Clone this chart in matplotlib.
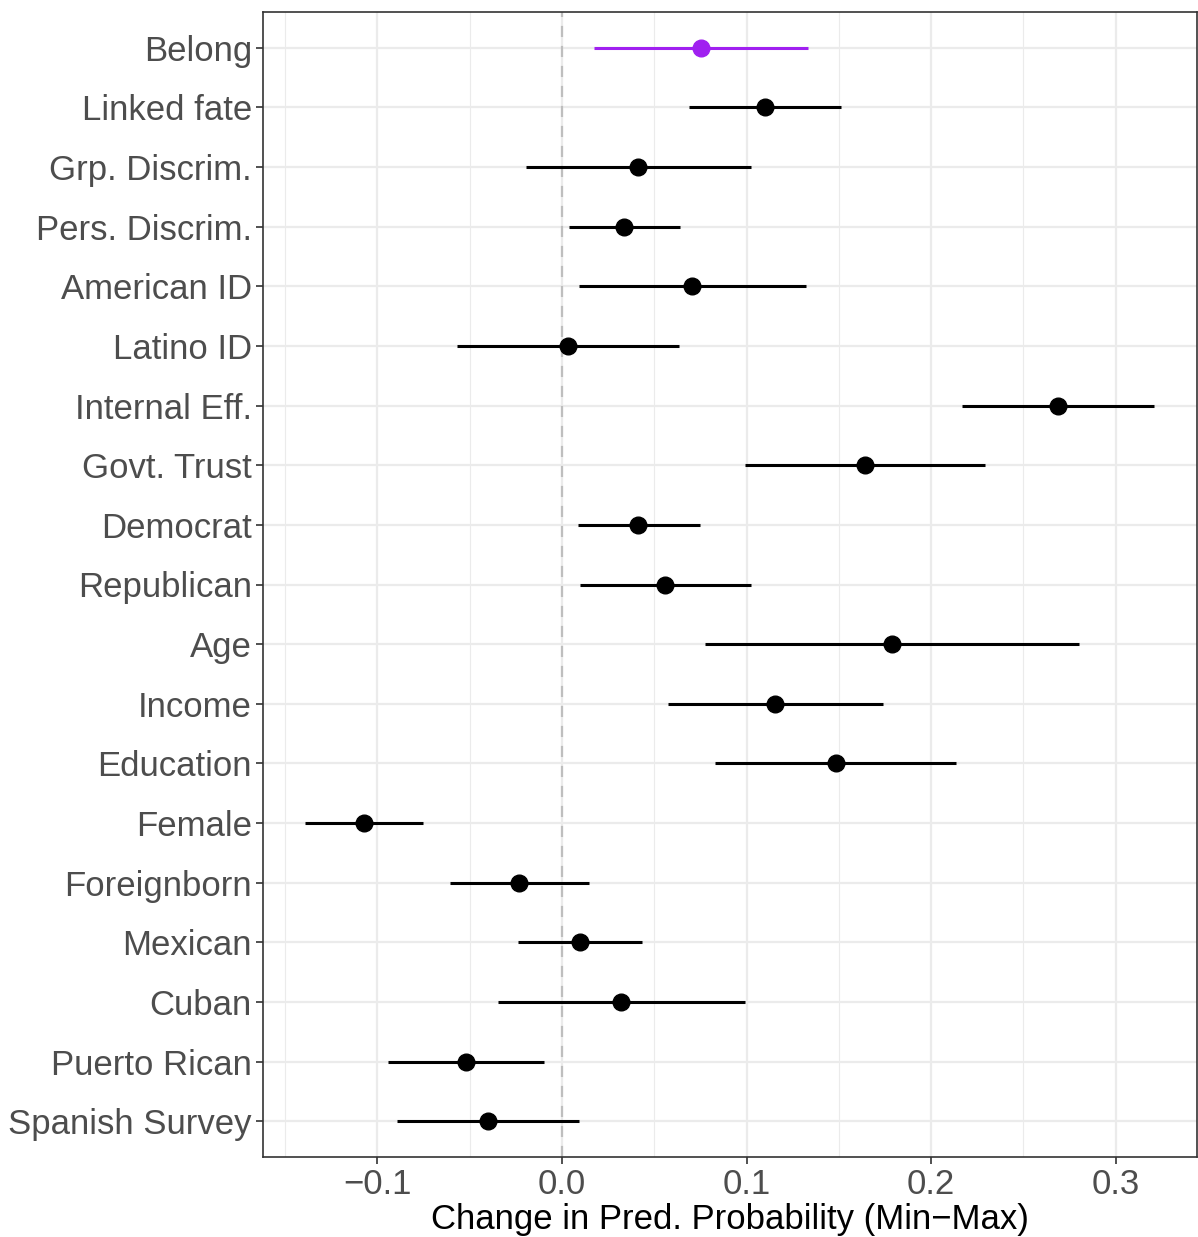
import matplotlib
matplotlib.use("Agg")
import matplotlib.pyplot as plt
import numpy as np

plt.rcParams['font.family'] = ['Liberation Sans', 'DejaVu Sans']

labels = ['Belong', 'Linked fate', 'Grp. Discrim.', 'Pers. Discrim.', 'American ID',
          'Latino ID', 'Internal Eff.', 'Govt. Trust', 'Democrat', 'Republican',
          'Age', 'Income', 'Education', 'Female', 'Foreignborn', 'Mexican',
          'Cuban', 'Puerto Rican', 'Spanish Survey']
est = [0.0753, 0.110, 0.0412, 0.0336, 0.0705, 0.0033, 0.2688, 0.1642, 0.0412, 0.0558,
       0.1789, 0.1154, 0.1485, -0.1073, -0.0233, 0.0098, 0.032, -0.052, -0.0401]
lo = [0.0173, 0.0688, -0.0195, 0.0038, 0.0092, -0.0569, 0.2168, 0.0992, 0.0087, 0.0098,
      0.0775, 0.0575, 0.0829, -0.1393, -0.0607, -0.0238, -0.0347, -0.0943, -0.0894]
hi = [0.1333, 0.151, 0.1024, 0.064, 0.132, 0.0634, 0.3209, 0.2293, 0.0748, 0.1024,
      0.2802, 0.174, 0.2136, -0.0753, 0.0146, 0.0434, 0.0992, -0.0098, 0.0092]
colors = ['#A020F0'] + ['black'] * (len(labels) - 1)

W, H = 1198, 1237
fig = plt.figure(figsize=(W / 100, H / 100), dpi=100)
ax = fig.add_axes([263 / W, 1 - 1157 / H, (1197 - 263) / W, (1157 - 12) / H])

n = len(labels)
y = np.arange(n)[::-1]

ax.axvline(0, color='#BEBEBE', lw=1.6, ls=(0, (5, 4)), zorder=2)
for yi, e, l, h, c in zip(y, est, lo, hi, colors):
    ax.plot([l, h], [yi, yi], color=c, lw=2.2, zorder=3, solid_capstyle='butt')
    ax.plot(e, yi, 'o', color=c, ms=12, zorder=4)

ax.set_xlim(-0.162, 0.344)
ax.set_ylim(-0.6, n - 1 + 0.6)
ax.set_xticks([-0.1, 0.0, 0.1, 0.2, 0.3])
ax.set_xticklabels(['\u22120.1', '0.0', '0.1', '0.2', '0.3'])
ax.set_xticks([-0.15, -0.05, 0.05, 0.15, 0.25], minor=True)
ax.set_yticks(y)
ax.set_yticklabels(labels)

ax.grid(which='major', color='#EBEBEB', lw=1.6, zorder=0)
ax.grid(which='minor', axis='x', color='#EBEBEB', lw=0.8, zorder=0)
ax.set_axisbelow(True)
ax.tick_params(which='major', length=5, width=1.2, color='#333333',
               labelsize=25, labelcolor='#4D4D4D', pad=3)
ax.tick_params(which='minor', length=0)
for s in ax.spines.values():
    s.set_color('#333333')
    s.set_linewidth(1.2)

ax.set_xlabel('Change in Pred. Probability (Min\u2212Max)', fontsize=25, color='black', labelpad=1)

fig.savefig('out.png', dpi=100)
